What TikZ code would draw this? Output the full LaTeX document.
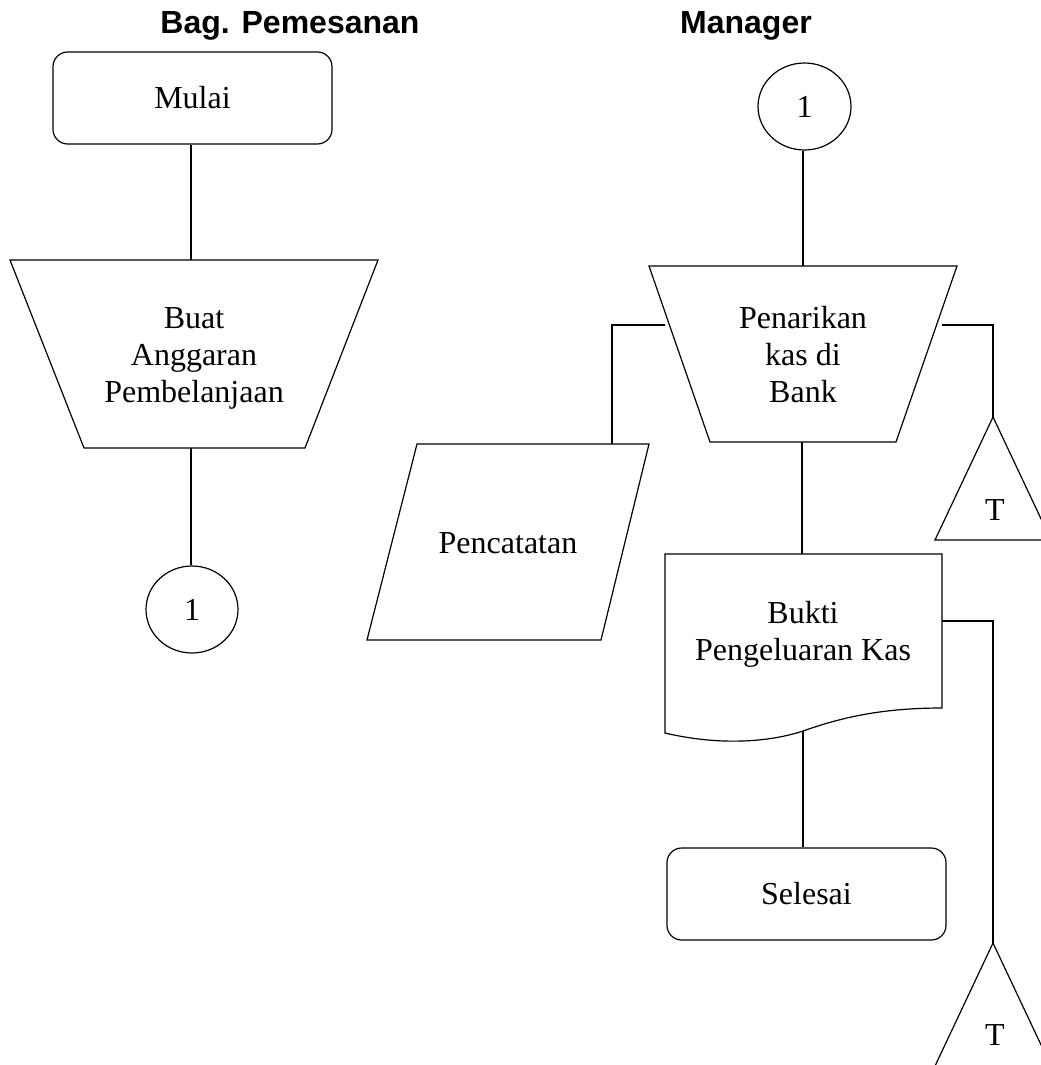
\documentclass[tikz,border=0pt]{standalone}
\usepackage{fontspec}
\setmainfont{Liberation Serif}
\newfontfamily\headfont{Liberation Sans}
\usetikzlibrary{shapes.geometric}
\begin{document}
\begin{tikzpicture}[x=0.75pt,y=-0.75pt,
  shp/.style={draw=black, line width=0.9pt},
  conn/.style={draw=black, line width=1.5pt},
  lbl/.style={font=\fontsize{24}{27.75}\selectfont, align=center, inner sep=0pt},
  term/.style={shp, rounded corners=11pt, minimum width=209.25pt, minimum height=69pt, inner sep=0pt, font=\fontsize{24}{27.75}\selectfont},
  conncirc/.style={shp, ellipse, minimum width=69pt, minimum height=65.25pt, inner sep=0pt, font=\fontsize{24}{27.75}\selectfont},
  head/.style={font=\headfont\bfseries\fontsize{24}{28}\selectfont, inner sep=0pt, anchor=base}
]
\fill[white] (0,0) rectangle (1041,1065);
\clip (0,0) rectangle (1041,1065);

% headers
\node[head] (h1) at (290,33) {Bag. Pemesanan};
\node[head] (h2) at (746,33) {Manager};

% ---- Bag. Pemesanan lane
\node[term] (mulai) at (192.5,98) {Mulai};
\path (10,260) coordinate (t1a) (378,260) coordinate (t1b)
      (305,448) coordinate (t1c) (84,448) coordinate (t1d)
      (191,260) coordinate (t1n) (191,448) coordinate (t1s);
\draw[shp] (t1a) -- (t1b) -- (t1c) -- (t1d) -- cycle;
\node[lbl] (buat) at (194,358) {Buat\\Anggaran\\Pembelanjaan};
\node[conncirc] (c1) at (192,609.5) {1};
\draw[conn] (mulai.south -| t1n) -- (t1n);
\draw[conn] (t1s) -- (t1s |- c1.north);

% ---- Manager lane
\node[conncirc, minimum width=69.75pt] (c2) at (804.5,106.5) {1};
\path (649,266) coordinate (t2a) (957,266) coordinate (t2b)
      (896,442) coordinate (t2c) (710,442) coordinate (t2d)
      (803,266) coordinate (t2n) (802,442) coordinate (t2s)
      (665,325) coordinate (t2w) (942,325) coordinate (t2e);
\draw[shp] (t2a) -- (t2b) -- (t2c) -- (t2d) -- cycle;
\node[lbl] (pen) at (803,355) {Penarikan\\kas di\\Bank};
\draw[conn] (c2.south -| t2n) -- (t2n);

% Pencatatan
\path (417,444) coordinate (pa) (649,444) coordinate (pb)
      (601,640) coordinate (pc) (367,640) coordinate (pd)
      (612,444) coordinate (pn) (612,325) coordinate (pbend);
\draw[shp] (pa) -- (pb) -- (pc) -- (pd) -- cycle;
\node[lbl, anchor=base] (pct) at (508,553) {Pencatatan};
\draw[conn] (t2w) -- (pbend) -- (pn);

% Triangle 1
\path (993,417) coordinate (tr1) (993,325) coordinate (tr1bend);
\draw[shp] (tr1) -- (1051,540) -- (935,540) -- cycle;
\node[lbl, anchor=base] (T1) at (995,520) {T};
\draw[conn] (t2e) -- (tr1bend) -- (tr1);

% Document
\path (802,554) coordinate (docn) (803,731) coordinate (docs)
      (942,621) coordinate (doce) (993,621) coordinate (tr2bend)
      (993,943) coordinate (tr2);
\draw[shp] (665,554) -- (942,554) -- (942,708)
  .. controls (880,708) and (840,718) .. (803,731)
  .. controls (770,742) and (720,746) .. (665,733) -- cycle;
\node[lbl] (bukti) at (803,634) {Bukti\\Pengeluaran Kas};
\draw[conn] (t2s) -- (docn);

% Triangle 2
\draw[shp] (tr2) -- (1051,1066) -- (935,1066) -- cycle;
\node[lbl, anchor=base] (T2) at (995,1045) {T};
\draw[conn] (doce) -- (tr2bend) -- (tr2);

% Selesai
\node[term] (selesai) at (806.5,894) {Selesai};
\draw[conn] (docs) -- (docs |- selesai.north);
\end{tikzpicture}
\end{document}
